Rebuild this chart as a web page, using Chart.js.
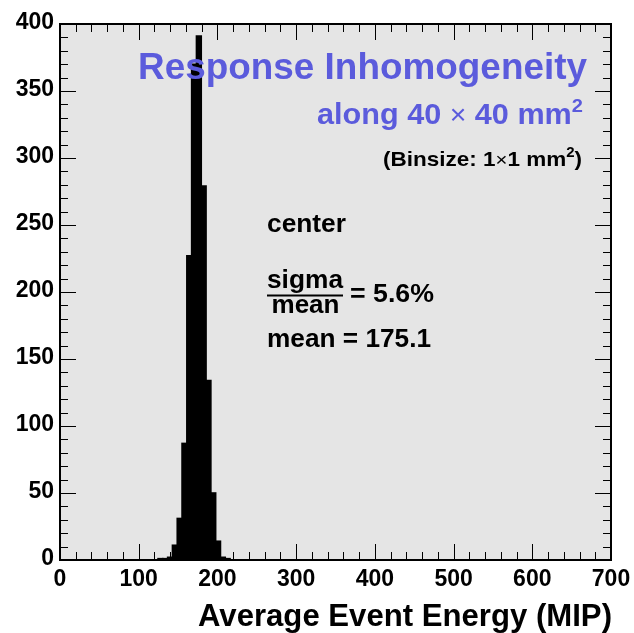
<!DOCTYPE html>
<html>
<head>
<meta charset="utf-8">
<script src="https://cdn.jsdelivr.net/npm/chart.js@4.4.1/dist/chart.umd.min.js"></script>
<style>
  html, body { margin: 0; padding: 0; background: #ffffff; }
  canvas { display: block; }
</style>
</head>
<body>
<canvas id="c" width="634" height="633"></canvas>
<script>
// Histogram of the average event energy per 1x1 mm^2 cell (MIP)
const binCenters = [127.6, 133.7, 139.8, 145.9, 152.0, 158.1, 164.2, 170.3,
                    176.4, 182.5, 188.6, 194.7, 200.8, 206.9, 213.0];
const binCounts  = [1, 1, 2, 11, 31, 87, 227, 370,
                    391, 279, 134, 50, 14, 2, 1];

const xTicks = [0, 100, 200, 300, 400, 500, 600, 700];
const yTicks = [0, 50, 100, 150, 200, 250, 300, 350, 400];
const xMinorStep = 20;
const yMinorStep = 10;

const meanValue = 175.1;
const sigmaOverMean = 5.6;

const FONT = "'Liberation Sans', Arial, Helvetica, sans-serif";
const TITLE_BLUE = '#5b5bdc';
const PANEL_GREY = '#e5e5e5';

// Draw a sequence of text runs, optionally stretched to a given width
function drawRuns(ctx, runs, x, y, align, width) {
  ctx.save();
  ctx.textBaseline = 'alphabetic';
  ctx.textAlign = 'left';
  let total = 0;
  runs.forEach(r => { ctx.font = r.font; r.w = ctx.measureText(r.text).width; total += r.w; });
  const sx = width ? width / total : 1;
  const w = total * sx;
  let cx = align === 'right' ? x - w : (align === 'center' ? x - w / 2 : x);
  runs.forEach(r => {
    ctx.save();
    ctx.font = r.font;
    ctx.fillStyle = r.color || '#000';
    ctx.translate(cx, y + (r.dy || 0));
    ctx.scale(sx, 1);
    ctx.fillText(r.text, 0, 0);
    ctx.restore();
    cx += r.w * sx;
  });
  ctx.restore();
}

const framePlugin = {
  id: 'rootFrame',
  beforeDraw(chart) {
    const { ctx, chartArea: a } = chart;
    ctx.save();
    ctx.fillStyle = '#ffffff';
    ctx.fillRect(0, 0, chart.width, chart.height);
    ctx.fillStyle = PANEL_GREY;
    ctx.fillRect(a.left, a.top, a.right - a.left, a.bottom - a.top);
    ctx.restore();
  },
  afterDatasetsDraw(chart) {
    const { ctx, chartArea: a, scales } = chart;
    const xs = scales.x, ys = scales.y;
    ctx.save();

    // tick marks on all four sides
    ctx.strokeStyle = '#000';
    ctx.lineWidth = 1;
    const majLen = 16, minLen = 8;
    ctx.beginPath();
    for (let v = xs.min; v <= xs.max + 1e-9; v += xMinorStep) {
      const px = Math.round(xs.getPixelForValue(v)) + 0.5;
      const len = xTicks.includes(v) ? majLen : minLen;
      ctx.moveTo(px, a.bottom); ctx.lineTo(px, a.bottom - len);
      ctx.moveTo(px, a.top); ctx.lineTo(px, a.top + len);
    }
    for (let v = ys.min; v <= ys.max + 1e-9; v += yMinorStep) {
      const py = Math.round(ys.getPixelForValue(v)) + 0.5;
      const len = yTicks.includes(v) ? majLen : minLen;
      ctx.moveTo(a.left, py); ctx.lineTo(a.left + len, py);
      ctx.moveTo(a.right, py); ctx.lineTo(a.right - len, py);
    }
    ctx.stroke();

    // frame
    ctx.lineWidth = 2;
    ctx.strokeRect(a.left, a.top, a.right - a.left, a.bottom - a.top);

    // tick labels
    ctx.fillStyle = '#000';
    ctx.font = 'bold 23px ' + FONT;
    ctx.textAlign = 'right';
    ctx.textBaseline = 'middle';
    yTicks.forEach(v => ctx.fillText(String(v), a.left - 6, ys.getPixelForValue(v) - 1));
    ctx.textAlign = 'center';
    ctx.textBaseline = 'alphabetic';
    xTicks.forEach(v => ctx.fillText(String(v), xs.getPixelForValue(v), 586));

    // axis title
    drawRuns(ctx, [{ text: 'Average Event Energy (MIP)', font: 'bold 31px ' + FONT }],
             612, 626, 'right', 414);

    // annotations
    drawRuns(ctx, [{ text: 'Response Inhomogeneity', font: 'bold 37px ' + FONT, color: TITLE_BLUE }],
             587, 79, 'right', 449);
    drawRuns(ctx, [
      { text: 'along 40 ', font: 'bold 29px ' + FONT, color: TITLE_BLUE },
      { text: '\u00d7', font: '27px ' + FONT, color: TITLE_BLUE },
      { text: ' 40 mm', font: 'bold 29px ' + FONT, color: TITLE_BLUE },
      { text: '2', font: 'bold 19px ' + FONT, color: TITLE_BLUE, dy: -12 }
    ], 583, 124, 'right', 266);
    drawRuns(ctx, [
      { text: '(Binsize: 1', font: 'bold 21px ' + FONT },
      { text: '\u00d7', font: '19px ' + FONT },
      { text: '1 mm', font: 'bold 21px ' + FONT },
      { text: '2', font: 'bold 14px ' + FONT, dy: -9 },
      { text: ')', font: 'bold 21px ' + FONT }
    ], 582, 166, 'right', 199);

    drawRuns(ctx, [{ text: 'center', font: 'bold 26px ' + FONT }], 267, 232, 'left', 79);
    drawRuns(ctx, [{ text: 'sigma', font: 'bold 26px ' + FONT }], 305, 288, 'center', 76);
    ctx.lineWidth = 2;
    ctx.beginPath();
    ctx.moveTo(267, 295.5); ctx.lineTo(343, 295.5);
    ctx.stroke();
    drawRuns(ctx, [{ text: 'mean', font: 'bold 26px ' + FONT }], 305.5, 313, 'center', 68);
    drawRuns(ctx, [{ text: '= ' + sigmaOverMean.toFixed(1) + '%', font: 'bold 26px ' + FONT }],
             350, 302, 'left', 84);
    drawRuns(ctx, [{ text: 'mean = ' + meanValue.toFixed(1), font: 'bold 26px ' + FONT }],
             267, 347, 'left', 164);

    ctx.restore();
  }
};

new Chart(document.getElementById('c'), {
  type: 'bar',
  data: {
    datasets: [{
      data: binCenters.map((x, i) => ({ x: x, y: binCounts[i] })),
      backgroundColor: '#000000',
      borderColor: '#000000',
      borderWidth: 0,
      inflateAmount: 0.8,
      barPercentage: 1.0,
      categoryPercentage: 1.0
    }]
  },
  options: {
    responsive: false,
    devicePixelRatio: 1,
    animation: false,
    layout: { padding: { left: 60, top: 24, right: 23, bottom: 73 } },
    plugins: { legend: { display: false }, tooltip: { enabled: false } },
    scales: {
      x: {
        type: 'linear', min: 0, max: 700, offset: false,
        afterBuildTicks: s => { s.ticks = xTicks.map(v => ({ value: v })); },
        ticks: { display: false },
        grid: { display: false, drawTicks: false },
        border: { display: false }
      },
      y: {
        type: 'linear', min: 0, max: 400,
        afterBuildTicks: s => { s.ticks = yTicks.map(v => ({ value: v })); },
        ticks: { display: false },
        grid: { display: false, drawTicks: false },
        border: { display: false }
      }
    }
  },
  plugins: [framePlugin]
});
</script>
</body>
</html>
